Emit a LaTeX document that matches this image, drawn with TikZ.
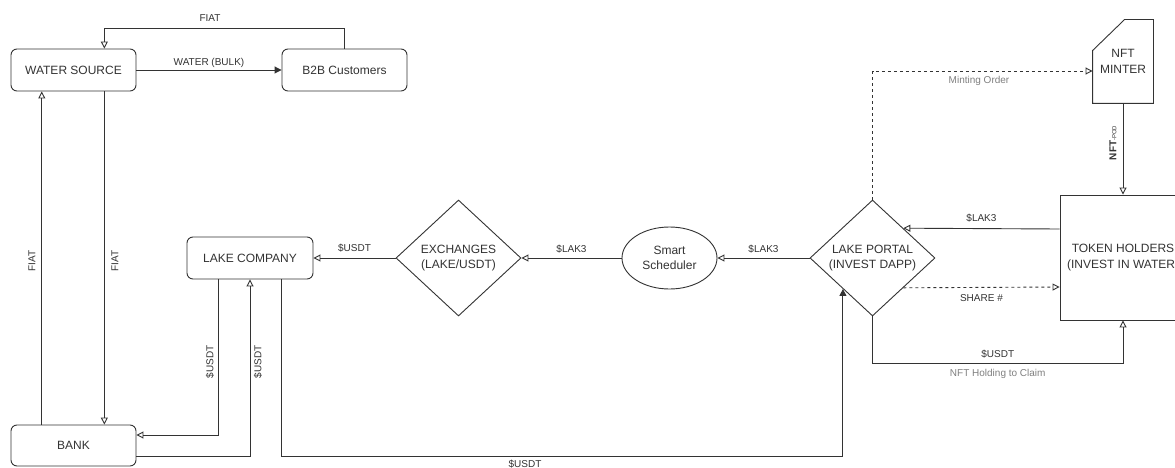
\documentclass[tikz,border=0pt]{standalone}
\usepackage{fontspec}
\setmainfont{Liberation Sans}
\usetikzlibrary{arrows.meta,shapes.geometric,calc}
\definecolor{ln}{HTML}{333333}
\definecolor{txt}{HTML}{333333}
\definecolor{lbl}{HTML}{808080}
\tikzset{
  box/.style={draw=ln, rounded corners=6pt, minimum width=125pt, minimum height=42pt, inner sep=0pt, text=txt, font=\fontsize{12}{15}\selectfont, align=center},
  sq/.style={draw=ln, minimum width=126pt, minimum height=125pt, inner sep=0pt, text=txt, font=\fontsize{12}{16}\selectfont, align=center},
  dia/.style={draw=ln, diamond, minimum width=125pt, minimum height=116pt, inner sep=-3pt, text=txt, font=\fontsize{12}{15}\selectfont, align=center},
  ell/.style={draw=ln, ellipse, minimum width=95pt, minimum height=62pt, inner sep=0pt, text=txt, font=\fontsize{12}{15}\selectfont, align=center},
  plainnode/.style={minimum width=60pt, minimum height=83pt, inner sep=0pt, text=txt, font=\fontsize{12}{16}\selectfont, align=center},
  lab/.style={font=\fontsize{10}{12}\selectfont, text=txt, inner sep=1pt},
  labg/.style={font=\fontsize{10}{12}\selectfont, text=lbl, inner sep=1pt},
  oa/.style={draw=ln, -{Triangle[open,length=7pt,width=7pt]}},
  fa/.style={draw=ln, -{Triangle[length=7pt,width=7pt]}},
  dsh/.style={dash pattern=on 3pt off 3pt}
}
\begin{document}
\begin{tikzpicture}[x=1pt,y=-1pt,line width=0.9pt]
\useasboundingbox (0,0) rectangle (1175,468);
\fill[white] (0,0) rectangle (1175,468);

% nodes
\node[box] (ws) at (73.5,70) {WATER SOURCE};
\node[box] (b2b) at (344.5,70) {B2B Customers};
\node[box, minimum height=41pt] (bank) at (73.5,445.5) {BANK};
\node[box, minimum width=126pt] (lake) at (250,258) {LAKE COMPANY};
\node[dia] (exch) at (458.5,258) {EXCHANGES\\(LAKE/USDT)};
\node[ell] (sched) at (669.5,258) {Smart\\Scheduler};
\node[dia] (portal) at (872.5,258) {LAKE PORTAL\\(INVEST DAPP)};
\node[sq] (token) at (1123,257.5) {TOKEN HOLDERS\\(INVEST IN WATER)};
\node[plainnode] (minter) at (1123,61.5) {NFT\\MINTER};
\draw[ln] ([yshift=-31pt]minter.north west) -- ([xshift=32pt]minter.north west) -- (minter.north east) -- (minter.south east) -- (minter.south west) -- cycle;

% top loop
\draw[oa] (b2b.north) -- ++(0,-20) -| node[lab,pos=0.28,yshift=10pt]{FIAT} ($(ws.north west)!0.745!(ws.north east)$);
\draw[fa] (ws.east) -- node[lab,yshift=7pt]{WATER (BULK)} (b2b.west);

% left verticals
\draw[oa] ($(bank.north west)!0.248!(bank.north east)$) -- ($(ws.south west)!0.248!(ws.south east)$);
\node[lab,rotate=90] (lf1) at (32,261) {FIAT};
\draw[oa] ($(ws.south west)!0.745!(ws.south east)$) -- ($(bank.north west)!0.745!(bank.north east)$);
\node[lab,rotate=90] (lf2) at (115,261) {FIAT};

% lake company <-> bank
\draw[oa] ($(lake.south west)!0.254!(lake.south east)$) |- ([yshift=10.5pt]bank.east);
\node[lab,rotate=90] (lu1) at (210,362) {\$USDT};
\draw[oa] ([yshift=-10.5pt]bank.east) -| (lake.south);
\node[lab,rotate=90] (lu2) at (258,362) {\$USDT};

% lake company -> portal (bottom)
\draw[fa] ($(lake.south west)!0.746!(lake.south east)$) -- ++(0,177) -| node[lab,pos=0.217,yshift=-8pt]{\$USDT} ($(portal.west)!0.53!(portal.south)$);

% middle chain
\draw[oa] (exch.west) -- node[lab,yshift=10pt]{\$USDT} (lake.east);
\draw[oa] (sched.west) -- node[lab,yshift=9pt]{\$LAK3} (exch.east);
\draw[oa] (portal.west) -- node[lab,yshift=9pt]{\$LAK3} (sched.east);

% portal <-> token holders
\draw[oa] ([yshift=28.5pt]token.west) -- node[lab,yshift=10pt]{\$LAK3} ($(portal.north)!0.49!(portal.east)$);
\draw[oa,dsh] ($(portal.east)!0.51!(portal.south)$) -- node[lab,yshift=-11pt]{SHARE \#} ([yshift=-29.5pt]token.west);
\draw[oa] (portal.south) -- ++(0,47) -| node[lab,pos=0.25,yshift=9pt]{\$USDT} node[labg,pos=0.25,yshift=-10pt]{NFT Holding to Claim} (token.south);

% minter
\draw[oa,dsh] (portal.north) |- node[labg,pos=0.742,yshift=-10pt]{Minting Order} ([yshift=-9.5pt]minter.west);
\draw[oa] (minter.south) -- (token.north);
\node[lab,rotate=90] (lnft) at (1113,143) {\bfseries NFT{\fontsize{6}{7}\selectfont\mdseries -POD}};
\end{tikzpicture}
\end{document}
